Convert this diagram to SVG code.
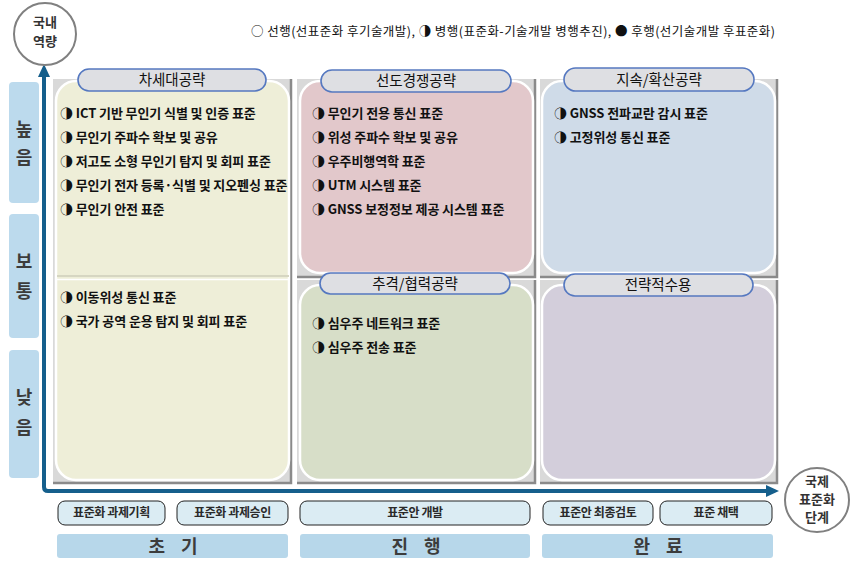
<svg xmlns="http://www.w3.org/2000/svg" width="852" height="573" viewBox="0 0 852 573">
<defs>
<style>
text{font-family:"Noto Sans CJK KR","Liberation Sans",sans-serif;fill:#111}
.item{font-size:13px;font-weight:bold;letter-spacing:-0.1px}
.ttl{font-size:14.5px;text-anchor:middle}
.pill{fill:#dedfe3;stroke:#5578c0;stroke-width:1.6}
.back{fill:#d9d9d9}
.shad{stroke:#8a8a8a;stroke-width:2.5;fill:none}
.cell{stroke:#ffffff;stroke-width:2.5}
.lvl{fill:#bcdaed}
.lvlt{font-size:18px;font-weight:bold;fill:#3c3c3c;text-anchor:middle}
.step{fill:#dbecf3;stroke:#222;stroke-width:1}
.stept{font-size:12px;text-anchor:middle;fill:#2a2a2a;font-weight:bold;letter-spacing:-0.4px}
.phase{fill:#b7d7ea}
.phaset{font-size:18px;font-weight:bold;fill:#3c3c3c;text-anchor:middle;letter-spacing:6px}
.circ{fill:#fff;stroke:#808080;stroke-width:2}
.circt{font-size:13px;text-anchor:middle;fill:#333;font-weight:bold}
.axis{stroke:#155f8c;stroke-width:4;fill:none}
</style>
</defs>

<!-- legend -->
<text x="251" y="36" font-size="12.5" textLength="524" lengthAdjust="spacing" fill="#222">○ 선행(선표준화 후기술개발), ◑ 병행(표준화-기술개발 병행추진), ● 후행(선기술개발 후표준화)</text>

<!-- level labels -->
<g id="level-high"><rect class="lvl" x="9" y="82" width="30" height="121" rx="4"/><text class="lvlt" x="24" y="136">높</text><text class="lvlt" x="24" y="164">음</text></g>
<g id="level-mid"><rect class="lvl" x="9" y="214" width="30" height="124" rx="4"/><text class="lvlt" x="24" y="268">보</text><text class="lvlt" x="24" y="298">통</text></g>
<g id="level-low"><rect class="lvl" x="9" y="350" width="30" height="128" rx="4"/><text class="lvlt" x="24" y="404">낮</text><text class="lvlt" x="24" y="434">음</text></g>

<!-- column 1 : 차세대공략 -->
<g id="cell-nextgen">
<rect class="back" x="53" y="79" width="239" height="404"/>
<path class="shad" d="M291,79 V483 H53"/>
<rect class="cell" x="56" y="81" width="233" height="399" rx="20" fill="#eeeed8"/>
<line x1="57" y1="276" x2="289" y2="276" stroke="#d6d6c2" stroke-width="2"/>
<line x1="57" y1="279.5" x2="289" y2="279.5" stroke="#ffffff" stroke-width="1.5"/>
<rect class="pill" x="78" y="69" width="188" height="22" rx="11"/>
<text class="ttl" x="172" y="85">차세대공략</text>
<text class="item" x="60" y="118">◑ ICT 기반 무인기 식별 및 인증 표준</text>
<text class="item" x="60" y="142">◑ 무인기 주파수 확보 및 공유</text>
<text class="item" x="60" y="166">◑ 저고도 소형 무인기 탐지 및 회피 표준</text>
<text class="item" x="60" y="190">◑ 무인기 전자 등록·식별 및 지오펜싱 표준</text>
<text class="item" x="60" y="214">◑ 무인기 안전 표준</text>
<text class="item" x="60" y="302">◑ 이동위성 통신 표준</text>
<text class="item" x="60" y="326">◑ 국가 공역 운용 탐지 및 회피 표준</text>
</g>

<!-- 선도경쟁공략 -->
<g id="cell-lead">
<rect class="back" x="297" y="79" width="239" height="198"/>
<path class="shad" d="M535,79 V277 H297"/>
<rect class="cell" x="300" y="81" width="233" height="192" rx="20" fill="#e2c8cb"/>
<rect class="pill" x="321" y="70" width="190" height="22" rx="11"/>
<text class="ttl" x="416" y="86">선도경쟁공략</text>
<text class="item" x="312" y="118">◑ 무인기 전용 통신 표준</text>
<text class="item" x="312" y="142">◑ 위성 주파수 확보 및 공유</text>
<text class="item" x="312" y="166">◑ 우주비행역학 표준</text>
<text class="item" x="312" y="190">◑ UTM 시스템 표준</text>
<text class="item" x="312" y="214">◑ GNSS 보정정보 제공 시스템 표준</text>
</g>

<!-- 지속/확산공략 -->
<g id="cell-sustain">
<rect class="back" x="540" y="79" width="238" height="198"/>
<path class="shad" d="M777,79 V277 H540"/>
<rect class="cell" x="542" y="81" width="233" height="192" rx="20" fill="#cfdbe8"/>
<rect class="pill" x="564" y="68" width="190" height="23" rx="11.5"/>
<text class="ttl" x="659" y="85">지속/확산공략</text>
<text class="item" x="554" y="118">◑ GNSS 전파교란 감시 표준</text>
<text class="item" x="554" y="142">◑ 고정위성 통신 표준</text>
</g>

<!-- 추격/협력공략 -->
<g id="cell-follow">
<rect class="back" x="297" y="280" width="239" height="203"/>
<path class="shad" d="M535,280 V483 H297"/>
<rect class="cell" x="300" y="285" width="233" height="195" rx="20" fill="#d7dec8"/>
<rect class="pill" x="320" y="273" width="190" height="21" rx="10.5"/>
<text class="ttl" x="415" y="289">추격/협력공략</text>
<text class="item" x="312" y="328">◑ 심우주 네트워크 표준</text>
<text class="item" x="312" y="352">◑ 심우주 전송 표준</text>
</g>

<!-- 전략적수용 -->
<g id="cell-accept">
<rect class="back" x="540" y="280" width="238" height="203"/>
<path class="shad" d="M777,280 V483 H540"/>
<rect class="cell" x="542" y="285" width="233" height="195" rx="20" fill="#d3cedb"/>
<rect class="pill" x="564" y="274" width="189" height="22" rx="11"/>
<text class="ttl" x="658" y="290">전략적수용</text>
</g>

<!-- axes -->
<g id="connectors">
<path class="axis" d="M44,76 V487 Q44,491 48,491 H768"/>
<polygon points="44,64 38,77 50,77" fill="#155f8c"/>
<polygon points="779,491 766,485 766,497" fill="#155f8c"/>
</g>

<g id="axis-domestic">
<circle class="circ" cx="45" cy="34" r="31"/>
<text class="circt" x="45" y="27">국내</text>
<text class="circt" x="45" y="46">역량</text>
</g>
<g id="axis-intl">
<circle class="circ" cx="817" cy="500" r="32"/>
<text class="circt" x="817" y="486">국제</text>
<text class="circt" x="817" y="504">표준화</text>
<text class="circt" x="817" y="522">단계</text>
</g>

<!-- steps -->
<g id="step1"><rect class="step" x="58" y="501" width="107" height="24" rx="7"/><text class="stept" x="111.5" y="517">표준화 과제기획</text></g>
<g id="step2"><rect class="step" x="177" y="501" width="111" height="24" rx="7"/><text class="stept" x="232.5" y="517">표준화 과제승인</text></g>
<g id="step3"><rect class="step" x="300" y="501" width="230" height="24" rx="7"/><text class="stept" x="415" y="517">표준안 개발</text></g>
<g id="step4"><rect class="step" x="543" y="501" width="110" height="24" rx="7"/><text class="stept" x="598" y="517">표준안 최종검토</text></g>
<g id="step5"><rect class="step" x="660" y="501" width="112" height="24" rx="7"/><text class="stept" x="716" y="517">표준 채택</text></g>

<!-- phases -->
<g id="phase-early"><rect class="phase" x="57" y="534" width="231" height="24" rx="3"/><text class="phaset" x="176" y="553">초 기</text></g>
<g id="phase-progress"><rect class="phase" x="300" y="534" width="230" height="24" rx="3"/><text class="phaset" x="419" y="553">진 행</text></g>
<g id="phase-done"><rect class="phase" x="542" y="534" width="231" height="24" rx="3"/><text class="phaset" x="661" y="553">완 료</text></g>
</svg>
